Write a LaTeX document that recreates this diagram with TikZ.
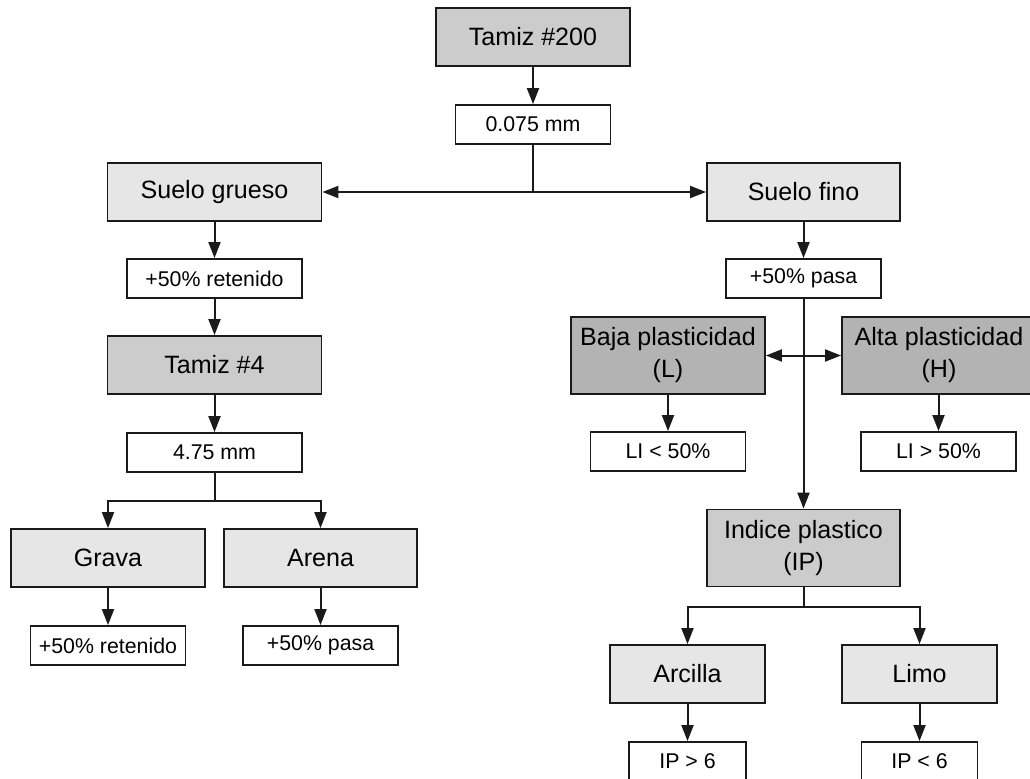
\documentclass[tikz,border=0pt]{standalone}
\usepackage{fontspec}
\setmainfont{Liberation Sans}
\usetikzlibrary{arrows.meta}
\definecolor{gA}{HTML}{CCCCCC}
\definecolor{gB}{HTML}{B3B3B3}
\definecolor{gL}{HTML}{E6E6E6}
\definecolor{ln}{HTML}{1A1A1A}
\begin{document}
\begin{tikzpicture}[x=0.75pt,y=-0.75pt,
  box/.style={draw=ln,line width=1.4pt,inner sep=0pt,align=center,text=black},
  big/.style={box,minimum height=43.5pt,font=\fontsize{18.8}{24}\selectfont},
  tall/.style={box,minimum height=57.75pt,font=\fontsize{18.8}{24}\selectfont},
  small/.style={box,fill=white,minimum height=29.25pt,font=\fontsize{16}{19}\selectfont},
  conn/.style={draw=ln,line width=1.5pt},
  arr/.style={conn,-{Triangle[length=12pt,width=9pt]}},
  darr/.style={conn,{Triangle[length=12pt,width=9pt]}-{Triangle[length=12pt,width=9pt]}}
]
\clip (0,0) rectangle (1030,778);
\fill[white] (0,0) rectangle (1030,778);
% top
\node[big,fill=gA,minimum width=145.5pt] (t200) at (533,37) {Tamiz \#200};
\node[small,minimum width=116.25pt] (d075) at (533,124.5) {0.075 mm};
\node[big,fill=gL,minimum width=160.5pt] (sg) at (214.5,192) {Suelo grueso};
\node[big,fill=gL,minimum width=144.75pt] (sf) at (803.5,192) {Suelo fino};
% left branch
\node[small,minimum width=131.25pt] (r1) at (214.5,278.5) {+50\% retenido};
\node[big,fill=gA,minimum width=160.5pt] (t4) at (214.5,365) {Tamiz \#4};
\node[small,minimum width=131.25pt] (d475) at (214.5,452.5) {4.75 mm};
\node[big,fill=gL,minimum width=145.5pt] (grava) at (108,558) {Grava};
\node[big,fill=gL,minimum width=144.75pt] (arena) at (320.5,558) {Arena};
\node[small,minimum width=116.25pt] (r2) at (108,645.5) {+50\% retenido};
\node[small,minimum width=116.25pt] (p2) at (320.5,645.5) {+50\% pasa};
% right branch
\node[small,minimum width=116.25pt] (p1) at (803.5,278.5) {+50\% pasa};
\node[tall,fill=gB,minimum width=145.5pt] (baja) at (668,355.5) {Baja plasticidad\\(L)};
\node[tall,fill=gB,minimum width=145.5pt] (alta) at (939,355.5) {Alta plasticidad\\(H)};
\node[small,minimum width=116.25pt] (li1) at (668,451.5) {LI < 50\%};
\node[small,minimum width=116.25pt] (li2) at (938.5,451.5) {LI > 50\%};
\node[tall,fill=gA,minimum width=144.75pt] (ip) at (803.5,548) {Indice plastico\\(IP)};
\node[big,fill=gL,minimum width=116.25pt] (arc) at (687.5,674) {Arcilla};
\node[big,fill=gL,minimum width=116.25pt] (limo) at (919.5,674) {Limo};
\node[small,minimum width=87.75pt] (ip1) at (687.5,761.5) {IP > 6};
\node[small,minimum width=87pt] (ip2) at (919.5,761.5) {IP < 6};
% connectors
\draw[arr] (t200) -- (d075);
\draw[arr] (d075.south) |- (sg.east);
\draw[arr] (d075.south) |- (sf.west);
\draw[arr] (sg) -- (r1);
\draw[arr] (r1) -- (t4);
\draw[arr] (t4) -- (d475);
\draw[arr] (d475.south) -- ++(0,28) -| (grava.north);
\draw[arr] (d475.south) -- ++(0,28) -| (arena.north);
\draw[arr] (grava) -- (r2);
\draw[arr] (arena) -- (p2);
\draw[arr] (sf) -- (p1);
\draw[arr] (p1) -- (ip);
\draw[darr] (baja.east) -- (alta.west);
\draw[arr] (baja) -- (li1);
\draw[arr] (alta.south -| li2.north) -- (li2);
\draw[arr] (ip.south) -- ++(0,20) -| (arc.north);
\draw[arr] (ip.south) -- ++(0,20) -| (limo.north);
\draw[arr] (arc) -- (ip1);
\draw[arr] (limo) -- (ip2);
\end{tikzpicture}
\end{document}
